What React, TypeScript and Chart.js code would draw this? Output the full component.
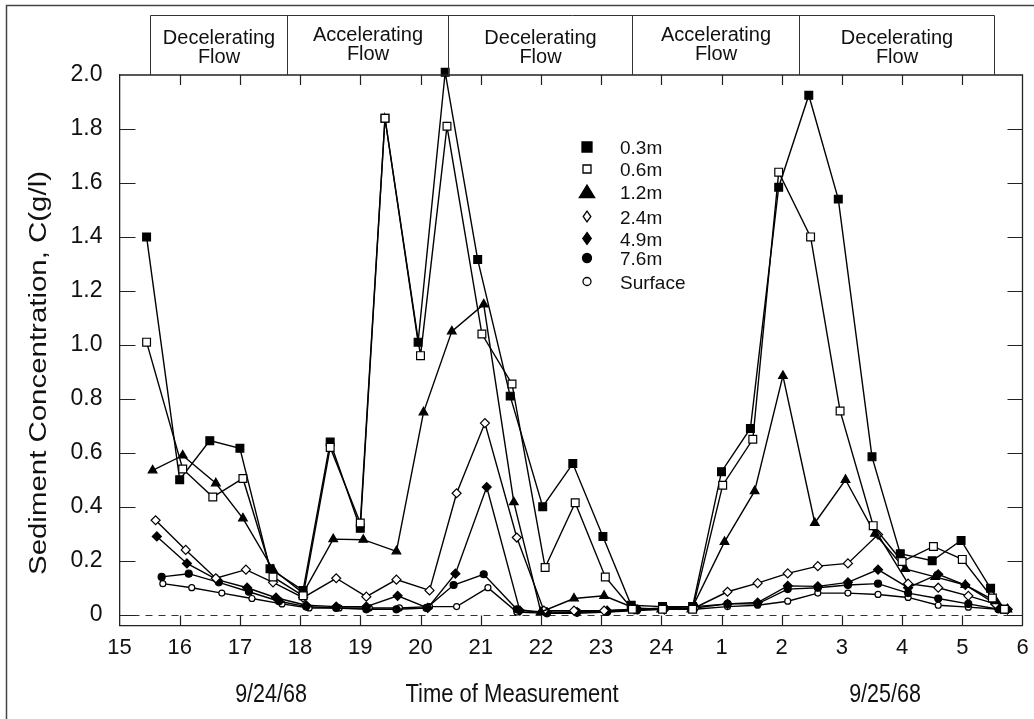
import React, { useEffect, useRef } from "react";
import { Chart, registerables } from "chart.js";

Chart.register(...registerables);

const FONT = '"Liberation Sans", Arial, Helvetica, sans-serif';

// ---------------- data ----------------
const seriesNames = ["0.3m", "0.6m", "1.2m", "2.4m", "4.9m", "7.6m", "Surface"];

const t03 = [15.45, 16.0, 16.5, 17.0, 17.5, 18.05, 18.5, 19.0, 19.41, 19.96, 20.41, 20.95, 21.49, 22.03, 22.53, 23.03, 23.5, 24.02, 24.52, 25.0, 25.48, 25.95, 26.45, 26.94, 27.5, 27.97, 28.5, 28.98, 29.47, 29.7];
const c03 = [1.40, 0.50, 0.645, 0.617, 0.17, 0.09, 0.64, 0.32, 1.84, 1.01, 2.01, 1.316, 0.81, 0.40, 0.56, 0.29, 0.035, 0.03, 0.03, 0.53, 0.69, 1.584, 1.925, 1.54, 0.585, 0.226, 0.20, 0.275, 0.098, 0.02];

const t06 = [15.45, 16.05, 16.55, 17.05, 17.55, 18.05, 18.5, 19.0, 19.41, 20.0, 20.44, 21.02, 21.52, 22.07, 22.57, 23.07, 23.52, 24.02, 24.52, 25.02, 25.52, 25.95, 26.48, 26.97, 27.52, 28.0, 28.52, 29.0, 29.5, 29.7];
const c06 = [1.01, 0.54, 0.436, 0.505, 0.14, 0.07, 0.62, 0.34, 1.84, 0.96, 1.81, 1.04, 0.855, 0.175, 0.415, 0.14, 0.02, 0.02, 0.02, 0.48, 0.65, 1.64, 1.40, 0.755, 0.33, 0.197, 0.253, 0.205, 0.062, 0.02];

const t12 = [15.55, 16.05, 16.6, 17.05, 17.55, 18.05, 18.55, 19.05, 19.6, 20.05, 20.52, 21.05, 21.55, 22.0, 22.55, 23.05, 23.55, 24.0, 24.5, 25.05, 25.55, 26.02, 26.55, 27.06, 27.55, 28.05, 28.55, 29.05, 29.55, 29.75];
const c12 = [0.535, 0.59, 0.487, 0.357, 0.167, 0.08, 0.28, 0.278, 0.235, 0.75, 1.05, 1.15, 0.417, 0.01, 0.06, 0.07, 0.025, 0.02, 0.02, 0.27, 0.458, 0.885, 0.34, 0.50, 0.30, 0.17, 0.14, 0.11, 0.05, 0.02];

const t24 = [15.6, 16.1, 16.6, 17.1, 17.55, 18.05, 18.6, 19.1, 19.6, 20.15, 20.6, 21.07, 21.6, 22.05, 22.55, 23.05, 23.55, 24.05, 24.55, 25.1, 25.6, 26.1, 26.6, 27.1, 27.6, 28.1, 28.6, 29.1, 29.55, 29.75];
const c24 = [0.35, 0.24, 0.135, 0.167, 0.12, 0.063, 0.135, 0.067, 0.13, 0.09, 0.45, 0.71, 0.286, 0.015, 0.015, 0.015, 0.02, 0.02, 0.025, 0.085, 0.117, 0.153, 0.18, 0.19, 0.297, 0.115, 0.10, 0.07, 0.04, 0.02];

const t49 = [15.62, 16.12, 16.62, 17.12, 17.6, 18.1, 18.6, 19.1, 19.62, 20.12, 20.58, 21.1, 21.65, 22.1, 22.6, 23.1, 23.6, 24.05, 24.55, 25.1, 25.6, 26.1, 26.6, 27.1, 27.6, 28.1, 28.6, 29.05, 29.55, 29.75];
const c49 = [0.29, 0.19, 0.13, 0.10, 0.063, 0.035, 0.03, 0.03, 0.07, 0.025, 0.152, 0.473, 0.015, 0.01, 0.01, 0.015, 0.02, 0.02, 0.025, 0.04, 0.045, 0.107, 0.105, 0.12, 0.167, 0.10, 0.15, 0.11, 0.04, 0.02];

const t76 = [15.7, 16.15, 16.65, 17.15, 17.65, 18.1, 18.6, 19.1, 19.6, 20.1, 20.55, 21.05, 21.6, 22.1, 22.6, 23.1, 23.6, 24.05, 24.55, 25.1, 25.6, 26.1, 26.6, 27.1, 27.6, 28.1, 28.6, 29.1, 29.6];
const c76 = [0.14, 0.152, 0.12, 0.085, 0.05, 0.03, 0.025, 0.02, 0.02, 0.025, 0.11, 0.15, 0.02, 0.005, 0.01, 0.01, 0.02, 0.025, 0.03, 0.04, 0.04, 0.095, 0.10, 0.11, 0.115, 0.08, 0.06, 0.04, 0.02];

const tSf = [15.72, 16.2, 16.7, 17.2, 17.7, 18.15, 18.65, 19.15, 19.65, 20.15, 20.6, 21.12, 21.6, 22.1, 22.6, 23.1, 23.6, 24.05, 24.55, 25.1, 25.6, 26.1, 26.6, 27.1, 27.6, 28.1, 28.6, 29.1, 29.6];
const cSf = [0.115, 0.10, 0.08, 0.06, 0.04, 0.025, 0.025, 0.025, 0.025, 0.03, 0.03, 0.10, 0.01, 0.005, 0.005, 0.01, 0.015, 0.02, 0.02, 0.03, 0.035, 0.05, 0.08, 0.08, 0.075, 0.064, 0.035, 0.028, 0.02];

const xTickValues = [15, 16, 17, 18, 19, 20, 21, 22, 23, 24, 25, 26, 27, 28, 29, 30];
const xTickLabels = ["15", "16", "17", "18", "19", "20", "21", "22", "23", "24", "1", "2", "3", "4", "5", "6"];
const yTickValues = [0, 0.2, 0.4, 0.6, 0.8, 1.0, 1.2, 1.4, 1.6, 1.8, 2.0];
const yTickLabels = ["0", "0.2", "0.4", "0.6", "0.8", "1.0", "1.2", "1.4", "1.6", "1.8", "2.0"];

const flowBounds = [15.51, 17.79, 20.45, 23.52, 26.28, 29.53];
const flowLabels = ["Decelerating", "Accelerating", "Decelerating", "Accelerating", "Decelerating"];
const flowWord = "Flow";

const yTitle = "Sediment Concentration, C(g/l)";
const xTitle = "Time of Measurement";
const dateLabels = ["9/24/68", "9/25/68"];

// ---------------- helpers ----------------
type Style = "rect" | "triangle" | "rectRot" | "circle";

function drawMarker(ctx: CanvasRenderingContext2D, style: Style, x: number, y: number, r: number, filled: boolean) {
  ctx.save();
  ctx.beginPath();
  if (style === "rect") {
    ctx.rect(x - r, y - r, 2 * r, 2 * r);
  } else if (style === "triangle") {
    ctx.moveTo(x, y - r);
    ctx.lineTo(x + r * 1.1, y + r * 0.8);
    ctx.lineTo(x - r * 1.1, y + r * 0.8);
    ctx.closePath();
  } else if (style === "rectRot") {
    ctx.moveTo(x, y - r * 1.2);
    ctx.lineTo(x + r * 0.85, y);
    ctx.lineTo(x, y + r * 1.2);
    ctx.lineTo(x - r * 0.85, y);
    ctx.closePath();
  } else {
    ctx.arc(x, y, r, 0, Math.PI * 2);
  }
  ctx.fillStyle = filled ? "#000" : "#fff";
  ctx.fill();
  ctx.lineWidth = 1.3;
  ctx.strokeStyle = "#000";
  ctx.stroke();
  ctx.restore();
}

const seriesStyle: { style: Style; filled: boolean; radius: number; legendR: number }[] = [
  { style: "rect", filled: true, radius: 5.5, legendR: 5 },
  { style: "rect", filled: false, radius: 5.5, legendR: 4 },
  { style: "triangle", filled: true, radius: 5, legendR: 7 },
  { style: "rectRot", filled: false, radius: 4.5, legendR: 4.5 },
  { style: "rectRot", filled: true, radius: 4.5, legendR: 5 },
  { style: "circle", filled: true, radius: 3.5, legendR: 4.5 },
  { style: "circle", filled: false, radius: 3, legendR: 4 },
];

const decorPlugin = {
  id: "decor",
  beforeDatasetsDraw(chart: any) {
    const { ctx, chartArea: a, scales } = chart;
    const y0 = Math.round(scales.y.getPixelForValue(0)) + 0.5;
    ctx.save();
    ctx.strokeStyle = "#333";
    ctx.lineWidth = 1;
    ctx.setLineDash([7, 6]);
    ctx.beginPath();
    ctx.moveTo(a.left, y0);
    ctx.lineTo(a.right, y0);
    ctx.stroke();
    ctx.restore();
  },
  afterDraw(chart: any) {
    const { ctx, chartArea: a, scales } = chart;
    const xs = scales.x;
    const ys = scales.y;
    ctx.save();
    // outer frame
    ctx.strokeStyle = "#444";
    ctx.lineWidth = 1.5;
    ctx.strokeRect(6.5, 5.5, 1060, 740);

    // top and right axis lines
    ctx.strokeStyle = "#222";
    ctx.lineWidth = 1.3;
    ctx.beginPath();
    ctx.moveTo(a.left, a.top);
    ctx.lineTo(a.right, a.top);
    ctx.lineTo(a.right, a.bottom);
    ctx.stroke();

    // inward ticks
    ctx.lineWidth = 1.2;
    ctx.beginPath();
    for (const v of xTickValues) {
      if (v <= xs.min || v >= xs.max) continue;
      const px = Math.round(xs.getPixelForValue(v)) + 0.5;
      ctx.moveTo(px, a.bottom);
      ctx.lineTo(px, a.bottom - 10);
      ctx.moveTo(px, a.top);
      ctx.lineTo(px, a.top + 10);
    }
    for (const v of yTickValues) {
      if (v >= ys.max) continue;
      const py = Math.round(ys.getPixelForValue(v)) + 0.5;
      ctx.moveTo(a.left, py);
      ctx.lineTo(a.left + 16, py);
      ctx.moveTo(a.right, py);
      ctx.lineTo(a.right - 15, py);
    }
    ctx.stroke();

    // flow boxes
    ctx.strokeStyle = "#333";
    ctx.lineWidth = 1;
    const boxTop = 15.5;
    const bx = flowBounds.map((v) => Math.round(xs.getPixelForValue(v)) + 0.5);
    ctx.beginPath();
    ctx.moveTo(bx[0], a.top);
    ctx.lineTo(bx[0], boxTop);
    ctx.lineTo(bx[bx.length - 1], boxTop);
    ctx.lineTo(bx[bx.length - 1], a.top);
    for (let i = 1; i < bx.length - 1; i++) {
      ctx.moveTo(bx[i], boxTop);
      ctx.lineTo(bx[i], a.top);
    }
    ctx.stroke();
    ctx.fillStyle = "#111";
    ctx.font = `20px ${FONT}`;
    ctx.textAlign = "center";
    ctx.textBaseline = "alphabetic";
    for (let i = 0; i < flowLabels.length; i++) {
      const cx = (bx[i] + bx[i + 1]) / 2;
      const acc = flowLabels[i].startsWith("Acc");
      ctx.fillText(flowLabels[i], cx, acc ? 41 : 44);
      ctx.fillText(flowWord, cx, acc ? 60 : 63);
    }

    // legend
    const rows = [147, 169, 192, 216.5, 238.5, 258, 281.5];
    ctx.font = `19px ${FONT}`;
    ctx.textAlign = "left";
    for (let i = 0; i < seriesNames.length; i++) {
      const s = seriesStyle[i];
      drawMarker(ctx, s.style, 587, rows[i], s.legendR, s.filled);
      ctx.fillStyle = "#111";
      ctx.fillText(seriesNames[i], 620, rows[i] + 7);
    }

    // y title (stretched along its length)
    ctx.save();
    ctx.translate(46, 373);
    ctx.rotate(-Math.PI / 2);
    ctx.font = `23px ${FONT}`;
    const w = ctx.measureText(yTitle).width;
    ctx.scale(404 / w, 1);
    ctx.textAlign = "center";
    ctx.fillStyle = "#111";
    ctx.fillText(yTitle, 0, 0);
    ctx.restore();

    // bottom titles
    ctx.font = `25px ${FONT}`;
    ctx.fillStyle = "#111";
    ctx.textAlign = "center";
    const drawCondensed = (txt: string, cx: number, by: number, sx: number) => {
      ctx.save();
      ctx.translate(cx, by);
      ctx.scale(sx, 1);
      ctx.fillText(txt, 0, 0);
      ctx.restore();
    };
    drawCondensed(dateLabels[0], 271, 702, 0.86);
    drawCondensed(xTitle, 512, 702, 0.88);
    drawCondensed(dateLabels[1], 885, 702, 0.86);

    ctx.restore();
  },
};

function makeDataset(label: string, ts: number[], cs: number[], idx: number, order: number) {
  const s = seriesStyle[idx];
  return {
    label,
    data: ts.map((t, i) => ({ x: t, y: cs[i] })),
    borderColor: "#000",
    borderWidth: 1.4,
    pointStyle: s.style,
    pointRadius: s.radius,
    pointBackgroundColor: s.filled ? "#000" : "#fff",
    pointBorderColor: "#000",
    pointBorderWidth: 1.2,
    tension: 0,
    fill: false,
    clip: false as any,
    order,
  };
}

export default function App() {
  const ref = useRef<HTMLCanvasElement | null>(null);
  useEffect(() => {
    if (!ref.current) return;
    const chart = new Chart(ref.current, {
      type: "line",
      data: {
        datasets: [
          makeDataset(seriesNames[0], t03, c03, 0, 2),
          makeDataset(seriesNames[1], t06, c06, 1, 1),
          makeDataset(seriesNames[2], t12, c12, 2, 3),
          makeDataset(seriesNames[3], t24, c24, 3, 4),
          makeDataset(seriesNames[4], t49, c49, 4, 5),
          makeDataset(seriesNames[5], t76, c76, 5, 6),
          makeDataset(seriesNames[6], tSf, cSf, 6, 7),
        ],
      },
      options: {
        responsive: false,
        animation: false,
        events: [],
        layout: { padding: { top: 75, right: 11.5, left: 0, bottom: 0 } },
        plugins: { legend: { display: false }, tooltip: { enabled: false } },
        scales: {
          x: {
            type: "linear",
            min: 15,
            max: 30,
            afterBuildTicks: (axis: any) => {
              axis.ticks = xTickValues.map((v) => ({ value: v }));
            },
            afterFit: (axis: any) => {
              axis.height = 93.5;
            },
            ticks: {
              autoSkip: false,
              maxRotation: 0,
              padding: 1,
              color: "#111",
              font: { family: FONT, size: 22 },
              callback: (v: any) => {
                const i = xTickValues.indexOf(Number(v));
                return i >= 0 ? xTickLabels[i] : "";
              },
            },
            grid: {
              display: true,
              drawOnChartArea: false,
              drawTicks: true,
              tickLength: 8,
              tickColor: "rgba(0,0,0,0)",
            },
            border: { display: true, color: "#222", width: 1.3 },
          },
          y: {
            type: "linear",
            min: -0.04,
            max: 2.0,
            afterBuildTicks: (axis: any) => {
              axis.ticks = yTickValues.map((v) => ({ value: v }));
            },
            afterFit: (axis: any) => {
              axis.width = 119.5;
            },
            ticks: {
              padding: 17,
              color: "#111",
              font: { family: FONT, size: 23 },
              callback: (v: any) => {
                const i = yTickValues.findIndex((t) => Math.abs(t - Number(v)) < 1e-6);
                return i >= 0 ? yTickLabels[i] : "";
              },
            },
            grid: { display: false, drawTicks: false },
            border: { display: true, color: "#222", width: 1.3 },
          },
        },
      } as any,
      plugins: [decorPlugin],
    });
    return () => chart.destroy();
  }, []);

  return (
    <div style={{ position: "absolute", left: 0, top: 0, width: 1034, height: 719, background: "#fff" }}>
      <canvas ref={ref} width={1034} height={719} style={{ display: "block" }} />
    </div>
  );
}
